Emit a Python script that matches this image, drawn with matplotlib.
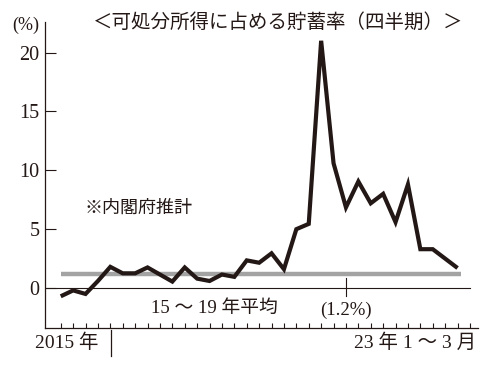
import numpy as np
import matplotlib
matplotlib.use("Agg")
import matplotlib.pyplot as plt
import matplotlib.transforms as mtransforms

# 可処分所得に占める貯蓄率（四半期）2015年1～3月 → 23年1～3月
quarters = np.arange(33)
saving_rate = [-0.7, -0.2, -0.5, 0.6, 1.8, 1.25, 1.25, 1.75, 1.15, 0.55,
               1.75, 0.8, 0.6, 1.15, 0.95, 2.35, 2.15, 2.95, 1.6, 5.0,
               5.45, 21.0, 10.6, 6.85, 9.05, 7.2, 8.0, 5.6, 8.8, 3.3,
               3.3, 2.5, 1.7]
avg_15_19 = 1.2
y_ticks = [0, 5, 10, 15, 20]

CJK = ["Noto Sans CJK JP", "DejaVu Sans"]
MIX = ["Liberation Serif", "Noto Sans CJK JP"]
INK = "#231815"

fig = plt.figure(figsize=(4.97, 3.72), dpi=100)
ax = fig.add_axes([0.0905, 0.119, 0.8713, 0.822])

# 平均線と系列
ax.plot([quarters[0], quarters[-1] + 0.3], [avg_15_19, avg_15_19],
        color="#a3a3a3", lw=3.2, solid_capstyle="butt", zorder=2)
ax.plot(quarters, saving_rate, color=INK, lw=3.0,
        solid_joinstyle="miter", solid_capstyle="butt", zorder=3)
ax.plot([-1.3, 33], [0, 0], color=INK, lw=0.8, zorder=1)
ax.plot([23, 23], [0.85, -0.65], color=INK, lw=0.8, zorder=1)

ax.set_xlim(-1.27, 33.65)
ax.set_ylim(-3.37, 22.6)

ax.spines["top"].set_visible(False)
ax.spines["right"].set_visible(False)
for s in ("left", "bottom"):
    ax.spines[s].set_linewidth(0.9)
    ax.spines[s].set_color(INK)

ax.set_xticks(np.arange(34))
ax.set_xticklabels([])
ax.tick_params(axis="x", direction="in", length=3.8, width=0.8, color=INK)
ax.set_yticks(y_ticks)
ax.set_yticklabels([str(v) for v in y_ticks], fontfamily=MIX, fontsize=14.5,
                   color=INK)
ax.tick_params(axis="y", direction="in", length=8, width=0.8, color=INK,
               pad=4)

# 注記
ax.text(1.95, 6.8, "※内閣府推計", fontfamily=CJK, fontsize=13, color=INK,
        va="center", ha="left")
ax.text(12.4, -1.7, "15 ～ 19 年平均", fontfamily=MIX, fontsize=13.5,
        color=INK, va="center", ha="center")
ax.text(23, -1.9, "(1.2%)", fontfamily=MIX, fontsize=13.5, color=INK,
        va="center", ha="center")

# 軸下の年ラベル
trans = mtransforms.blended_transform_factory(ax.transData, ax.transAxes)
ax.plot([4.05, 4.05], [-0.008, -0.093], transform=trans, color=INK, lw=0.9,
        clip_on=False)
fig.text(0.070, 0.078, "2015 年", fontfamily=MIX, fontsize=14, color=INK,
         va="center", ha="left")
fig.text(0.957, 0.078, "23 年 1 ～ 3 月", fontfamily=MIX, fontsize=14,
         color=INK, va="center", ha="right")

fig.text(0.052, 0.933, "(%)", fontfamily=MIX, fontsize=13, color=INK,
         va="center", ha="center")
fig.text(0.559, 0.941, "＜可処分所得に占める貯蓄率（四半期）＞", fontfamily=CJK,
         fontsize=14, color=INK, va="center", ha="center")

fig.savefig("out.png", dpi=100)
